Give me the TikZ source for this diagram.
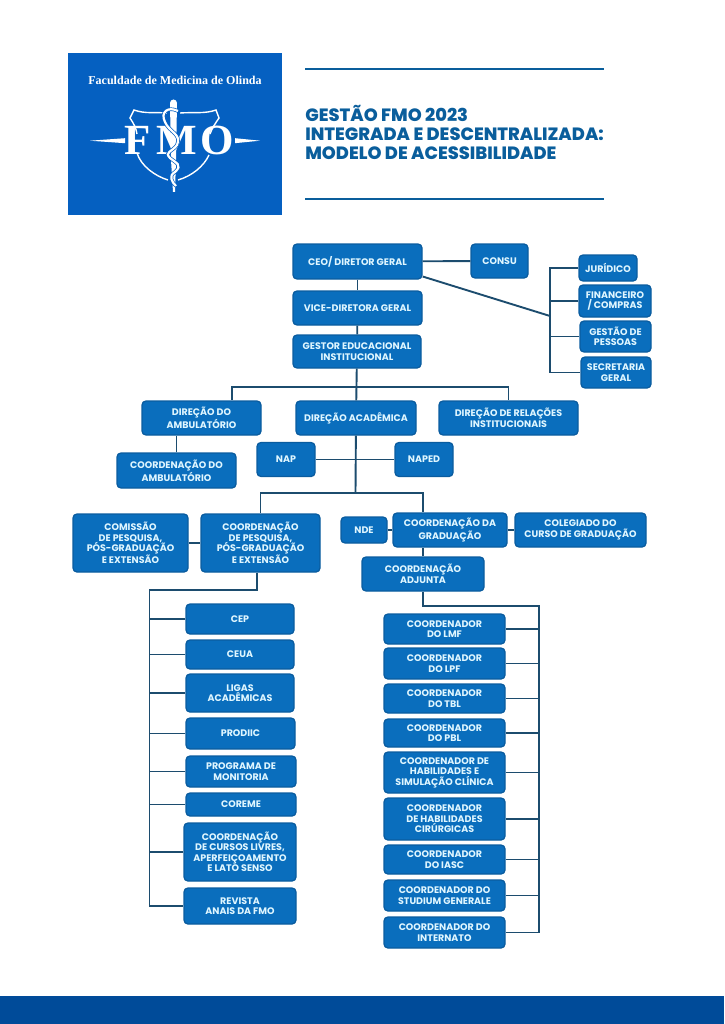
\documentclass[tikz,border=0pt]{standalone}
\usepackage{fontspec}
\setmainfont{Poppins}
\newfontfamily\logofont{Liberation Serif}
\newfontfamily\titlefont{Poppins ExtraBold}
\usepackage{tikz}

\definecolor{logoblue}{HTML}{0560C1}
\definecolor{barblue}{HTML}{004B99}
\definecolor{boxblue}{HTML}{0A6EBD}
\definecolor{edgeblue}{HTML}{0A5C9F}
\definecolor{boxtext}{HTML}{DFF6FF}
\definecolor{linkblue}{HTML}{1C4C6E}
\definecolor{titleblue}{HTML}{0A5E9C}

\begin{document}
\begin{tikzpicture}[
    x = 1pt, y = -1pt, % pixels of the page
    semithick
]

\tikzstyle{unit}=[
    draw = edgeblue,
    line width = 1.3pt,
    fill = boxblue,
    rounded corners = 4pt,
    text = boxtext,
    align = center,
    inner sep = 0pt,
    font = \fontsize{9.5}{10.5}\selectfont\bfseries
]
\tikzstyle{link}=[
    draw = linkblue,
    line width = 1.9pt
]
\tikzstyle{rule}=[
    draw = titleblue,
    line width = 2pt
]

\useasboundingbox (0,0) rectangle (724,1024);

% header
\node[fill = logoblue, minimum width = 214pt, minimum height = 162pt, inner sep = 0pt] (Logo) at (175,134) {};
\node[text = white, font = \logofont\fontsize{12.05}{14}\selectfont\bfseries] (Logo Name) at (175,80) {Faculdade de Medicina de Olinda};
\fill[white] (90,140.7) -- (125,138.2) -- (125,143.2) -- cycle;
\fill[white] (260,140.7) -- (235,138.2) -- (235,143.2) -- cycle;
\draw[white, line width = 1.4pt] (168,113) .. controls (155,112) and (145,114) .. (134,110) -- (130,118) .. controls (134,124) and (136,128) .. (137,134);
\draw[white, line width = 1.4pt] (180,113) .. controls (193,112) and (205,114) .. (216,110) -- (219,118) .. controls (215,124) and (212,128) .. (210,134);
\draw[white, line width = 1.4pt] (137,153) .. controls (141,166) and (155,176) .. (168,180);
\draw[white, line width = 1.4pt] (209,155) .. controls (204,166) and (192,176) .. (178,180);
\node[text = white, inner sep = 0pt, font = \logofont\fontsize{43}{43}\selectfont\bfseries] (Logo Mark) at (179,140.5) {F\hspace{6pt}M\hspace{3pt}O};
\fill[logoblue] (167,100) rectangle (180,125);
\fill[white] (170,103) arc[start angle = 180, end angle = 0, radius = 3.5pt] -- (176,160) -- (175,192) -- (173,192) -- (171,160) -- cycle;
\draw[logoblue, line width = 3.6pt] (178,111) .. controls (168,106) and (160,112) .. (165,122) .. controls (169,132) and (182,134) .. (177,145) .. controls (172,152) and (164,152) .. (170,158) .. controls (176,163) and (183,165) .. (175,172) .. controls (168,176) and (172,182) .. (176,186);
\draw[white, line width = 2.2pt] (178,111) .. controls (168,106) and (160,112) .. (165,122) .. controls (169,132) and (182,134) .. (177,145) .. controls (172,152) and (164,152) .. (170,158) .. controls (176,163) and (183,165) .. (175,172) .. controls (168,176) and (172,182) .. (176,186);

\coordinate (Rule Top Left) at (305,69);
\coordinate (Rule Top Right) at (604,69);
\coordinate (Rule Low Left) at (305,199);
\coordinate (Rule Low Right) at (604,199);
\path[rule] (Rule Top Left) edge (Rule Top Right);
\path[rule] (Rule Low Left) edge (Rule Low Right);
\node[text = titleblue, align = left, anchor = west, inner sep = 0pt, font = \titlefont\fontsize{17.8}{19}\selectfont] (Title) at (305,132.5) {GESTÃO FMO 2023\\INTEGRADA E DESCENTRALIZADA:\\MODELO DE ACESSIBILIDADE};

\node[fill = barblue, minimum width = 724pt, minimum height = 28pt, inner sep = 0pt] (Footer) at (362,1010) {};

% top of the chart
\node[unit, minimum width = 129pt, minimum height = 35pt] (CEO) at (357.5,261.5) {CEO/ DIRETOR GERAL};
\node[unit, minimum width = 57pt, minimum height = 34pt] (CONSU) at (499.5,261) {CONSU};
\node[unit, minimum width = 129pt, minimum height = 34pt] (Vice Diretora) at (357.5,308) {VICE-DIRETORA GERAL};
\node[unit, minimum width = 128pt, minimum height = 33pt] (Gestor) at (357,351.5) {GESTOR EDUCACIONAL\\INSTITUCIONAL};
\node[unit, minimum width = 58pt, minimum height = 26pt] (Juridico) at (608,268) {JURÍDICO};
\node[unit, minimum width = 72pt, minimum height = 32pt] (Financeiro) at (615,301) {FINANCEIRO\\/ COMPRAS};
\node[unit, minimum width = 71pt, minimum height = 31pt] (Gestao Pessoas) at (615.5,336.5) {GESTÃO DE\\PESSOAS};
\node[unit, minimum width = 70pt, minimum height = 31pt] (Secretaria) at (616,372.5) {SECRETARIA\\GERAL};

% directions
\node[unit, minimum width = 119pt, minimum height = 34pt] (Direcao Ambulatorio) at (201.5,418) {DIREÇÃO DO\\AMBULATÓRIO};
\node[unit, minimum width = 120pt, minimum height = 34pt] (Direcao Academica) at (356,418) {DIREÇÃO ACADÊMICA};
\node[unit, minimum width = 139pt, minimum height = 34pt] (Direcao Relacoes) at (508.5,418) {DIREÇÃO DE RELAÇÕES\\INSTITUCIONAIS};
\node[unit, minimum width = 119pt, minimum height = 35pt] (Coord Ambulatorio) at (176.5,470.5) {COORDENAÇÃO DO\\AMBULATÓRIO};
\node[unit, minimum width = 58pt, minimum height = 34pt] (NAP) at (286,459.5) {NAP};
\node[unit, minimum width = 58pt, minimum height = 34pt] (NAPED) at (424,459.5) {NAPED};

% coordinations
\node[unit, minimum width = 115pt, minimum height = 58pt] (Comissao) at (130.5,543) {COMISSÃO\\DE PESQUISA,\\PÓS-GRADUAÇÃO\\E EXTENSÃO};
\node[unit, minimum width = 119pt, minimum height = 58pt] (Coord Pesquisa) at (260.5,543) {COORDENAÇÃO\\DE PESQUISA,\\PÓS-GRADUAÇÃO\\E EXTENSÃO};
\node[unit, minimum width = 46pt, minimum height = 26pt] (NDE) at (364,530) {NDE};
\node[unit, minimum width = 114pt, minimum height = 34pt] (Coord Graduacao) at (450,530) {COORDENAÇÃO DA\\GRADUAÇÃO};
\node[unit, minimum width = 131pt, minimum height = 34pt] (Colegiado) at (580.5,530) {COLEGIADO DO\\CURSO DE GRADUAÇÃO};
\node[unit, minimum width = 122pt, minimum height = 34pt] (Coord Adjunta) at (423,574) {COORDENAÇÃO\\ADJUNTA};

% left column
\node[unit, minimum width = 108pt, minimum height = 30pt] (CEP) at (240,619) {CEP};
\node[unit, minimum width = 108pt, minimum height = 29pt] (CEUA) at (240,654.5) {CEUA};
\node[unit, minimum width = 108pt, minimum height = 38pt] (Ligas) at (240,693) {LIGAS\\ACADÊMICAS};
\node[unit, minimum width = 109pt, minimum height = 31pt] (PRODIIC) at (240.5,733.5) {PRODIIC};
\node[unit, minimum width = 110pt, minimum height = 31pt] (Monitoria) at (241,771.5) {PROGRAMA DE\\MONITORIA};
\node[unit, minimum width = 110pt, minimum height = 23pt] (COREME) at (241,804.5) {COREME};
\node[unit, minimum width = 112pt, minimum height = 58pt] (Cursos Livres) at (240,852) {COORDENAÇÃO\\DE CURSOS LIVRES,\\APERFEIÇOAMENTO\\E LATO SENSO};
\node[unit, minimum width = 112pt, minimum height = 36pt] (Revista) at (240,906) {REVISTA\\ANAIS DA FMO};

% right column
\node[unit, minimum width = 121pt, minimum height = 30pt] (LMF) at (444.5,629) {COORDENADOR\\DO LMF};
\node[unit, minimum width = 121pt, minimum height = 31pt] (LPF) at (444.5,663.5) {COORDENADOR\\DO LPF};
\node[unit, minimum width = 121pt, minimum height = 29pt] (TBL) at (444.5,698.5) {COORDENADOR\\DO TBL};
\node[unit, minimum width = 121pt, minimum height = 28pt] (PBL) at (444.5,733) {COORDENADOR\\DO PBL};
\node[unit, minimum width = 121pt, minimum height = 41pt] (Habilidades) at (444.5,772.5) {COORDENADOR DE\\HABILIDADES E\\SIMULAÇÃO CLÍNICA};
\node[unit, minimum width = 121pt, minimum height = 42pt] (Cirurgicas) at (444.5,819) {COORDENADOR\\DE HABILIDADES\\CIRÚRGICAS};
\node[unit, minimum width = 121pt, minimum height = 29pt] (IASC) at (444.5,859.5) {COORDENADOR\\DO IASC};
\node[unit, minimum width = 121pt, minimum height = 31pt] (Studium) at (444.5,895.5) {COORDENADOR DO\\STUDIUM GENERALE};
\node[unit, minimum width = 121pt, minimum height = 31pt] (Internato) at (444.5,932.5) {COORDENADOR DO\\INTERNATO};

% joints
\coordinate (Staff Joint) at (550,316);
\coordinate (Direction Joint) at (355.5,387);
\coordinate (Academic Joint) at (355.5,493);
\coordinate (Left Corner) at (149.5,590);
\coordinate (Right Corner) at (539,606);

\path[link] (CEO) edge (CONSU);
\path[link] (CEO) edge (Vice Diretora);
\path[link] (Vice Diretora) edge (Gestor);
\draw[link] ([yshift=-15pt]CEO.east) -- (Staff Joint);
\draw[link] (Juridico) -| (Staff Joint) |- (Secretaria);
\draw[link] (Financeiro) -- (Financeiro -| Staff Joint);
\draw[link] (Gestao Pessoas) -- (Gestao Pessoas -| Staff Joint);

\path[link] (Gestor) edge (Direcao Academica);
\draw[link] (Direction Joint) -| ([xshift=30.5pt]Direcao Ambulatorio.north);
\draw[link] (Direction Joint) -| (Direcao Relacoes);
\draw[link] (Coord Ambulatorio) -- (Coord Ambulatorio |- Direcao Ambulatorio.south);
\draw[link] (Direcao Academica) -- (Academic Joint);
\path[link] (NAP) edge (NAPED);

\draw[link] (Academic Joint) -| (Coord Pesquisa);
\draw[link] (Academic Joint) -| ([xshift=-27pt]Coord Graduacao.north);
\path[link] (Comissao) edge (Coord Pesquisa);
\path[link] (NDE) edge (Coord Graduacao);
\path[link] (Coord Graduacao) edge (Colegiado);
\draw[link] (Coord Adjunta) -- (Coord Adjunta |- Coord Graduacao.south);

\draw[link] ([xshift=-3.5pt]Coord Pesquisa.south) |- (Left Corner) |- (Revista);
\draw[link] (CEP) -- (CEP -| Left Corner);
\draw[link] (CEUA) -- (CEUA -| Left Corner);
\draw[link] (Ligas) -- (Ligas -| Left Corner);
\draw[link] (PRODIIC) -- (PRODIIC -| Left Corner);
\draw[link] (Monitoria) -- (Monitoria -| Left Corner);
\draw[link] (COREME) -- (COREME -| Left Corner);
\draw[link] (Cursos Livres) -- (Cursos Livres -| Left Corner);

\draw[link] (Coord Adjunta) |- (Right Corner) |- (Internato);
\draw[link] (LMF) -- (LMF -| Right Corner);
\draw[link] (LPF) -- (LPF -| Right Corner);
\draw[link] (TBL) -- (TBL -| Right Corner);
\draw[link] (PBL) -- (PBL -| Right Corner);
\draw[link] (Habilidades) -- (Habilidades -| Right Corner);
\draw[link] (Cirurgicas) -- (Cirurgicas -| Right Corner);
\draw[link] (IASC) -- (IASC -| Right Corner);
\draw[link] (Studium) -- (Studium -| Right Corner);

\end{tikzpicture}
\end{document}
